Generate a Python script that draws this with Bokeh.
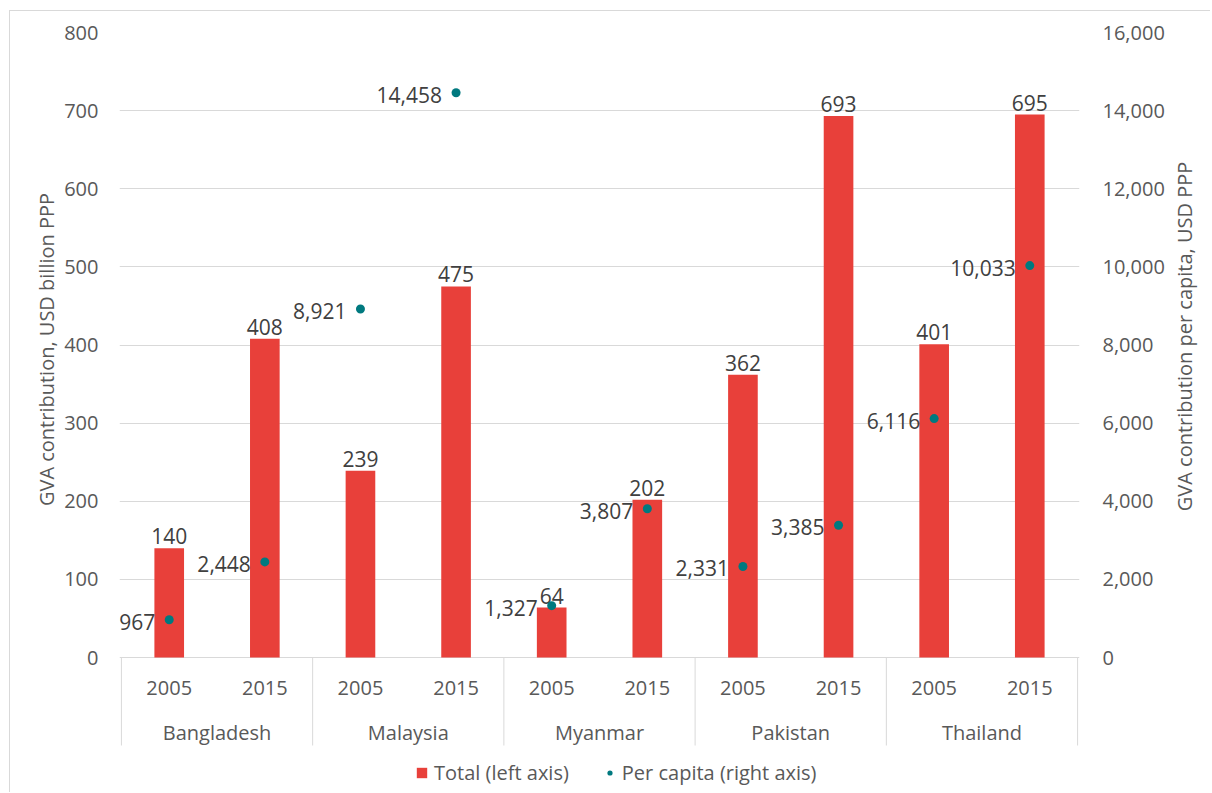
import math
from bokeh.plotting import figure
from bokeh.layouts import row
from bokeh.models import (FactorRange, Range1d, LinearAxis, FixedTicker, NumeralTickFormatter,
                          ColumnDataSource, Legend, LegendItem)
from bokeh.core.properties import value
from bokeh.embed import file_html
from bokeh.resources import INLINE

# ---- data ----
countries = ["Bangladesh", "Malaysia", "Myanmar", "Pakistan", "Thailand"]
years = ["2005", "2015"]
total_bn = [140, 408, 239, 475, 64, 202, 362, 693, 401, 695]          # USD billion PPP
per_capita = [967, 2448, 8921, 14458, 1327, 3807, 2331, 3385, 6116, 10033]  # USD PPP
left_ticks = [0, 100, 200, 300, 400, 500, 600, 700, 800]
right_ticks = [0, 2000, 4000, 6000, 8000, 10000, 12000, 14000, 16000]
left_title = "GVA contribution, USD billion PPP"
right_title = "GVA contribution per capita, USD PPP"
legend_labels = ["Total (left axis)", "Per capita (right axis)"]

# ---- styling / layout ----
FONT = "Open Sans"
RED = "#E8403A"
TEAL = "#00797F"
GRID = "#D9D9D9"
TICK_COL = "#595959"
LBL_COL = "#404040"

H = 781
LEFT_W, MAIN_W, RIGHT_W = 50, 1108, 42
BL, BR, BT, BB = 59, 89, 21, 0
frame_h = H - BT - BB
px_per_unit = 625 / left_ticks[-1]
y_end = left_ticks[-1]
y_start = y_end - frame_h / px_per_unit
ratio = right_ticks[-1] / left_ticks[-1]

factors = [(c, y) for c in countries for y in years]
x_range = FactorRange(factors=factors, factor_padding=0, group_padding=0, subgroup_padding=0,
                      range_padding=0.02, range_padding_units="absolute")
y_range = Range1d(y_start, y_end)

p = figure(width=MAIN_W, height=H, x_range=x_range, y_range=y_range,
           x_axis_location=None, toolbar_location=None, output_backend="svg", title=None,
           min_border_left=BL, min_border_right=BR, min_border_top=BT, min_border_bottom=BB)
p.outline_line_color = None
p.background_fill_color = "white"
p.border_fill_color = "white"

p.extra_y_ranges = {"pc": Range1d(y_start * ratio, y_end * ratio)}

def style_axis(ax, standoff):
    ax.axis_line_color = None
    ax.major_tick_line_color = None
    ax.minor_tick_line_color = None
    ax.major_tick_out = 0
    ax.major_tick_in = 0
    ax.major_label_standoff = standoff
    ax.major_label_text_font = FONT
    ax.major_label_text_font_size = "20px"
    ax.major_label_text_color = TICK_COL

ya = p.yaxis[0]
ya.ticker = FixedTicker(ticks=left_ticks)
style_axis(ya, 21)

ra = LinearAxis(y_range_name="pc", ticker=FixedTicker(ticks=right_ticks),
                formatter=NumeralTickFormatter(format="0,0"))
style_axis(ra, 23)
p.add_layout(ra, "right")

p.ygrid.ticker = FixedTicker(ticks=left_ticks)
p.ygrid.grid_line_color = GRID
p.xgrid.visible = False

src = ColumnDataSource(dict(
    x=factors,
    total=total_bn,
    total_lbl=[str(v) for v in total_bn],
    pc=per_capita,
    pc_lbl=[f"{v:,}" for v in per_capita],
    year=[f[1] for f in factors],
))

bars = p.vbar(x="x", top="total", width=0.31, source=src, fill_color=RED, line_color=None)
p.text(x="x", y="total", text="total_lbl", source=src, text_align="center",
       text_baseline="alphabetic", y_offset=-12, text_font=value(FONT),
       text_font_size=value("21px"), text_color=LBL_COL)

dots = p.scatter(x="x", y="pc", y_range_name="pc", source=src, size=9,
                 fill_color=TEAL, line_color=None)
p.text(x="x", y="pc", y_range_name="pc", text="pc_lbl", source=src, text_align="right",
       text_baseline="middle", x_offset=-14, y_offset=2, text_font=value(FONT),
       text_font_size=value("21px"), text_color=LBL_COL)

# two-level category axis drawn below zero
sep_bottom = -(745 - 657) / px_per_unit
year_y = -(687 - 657) / px_per_unit
country_y = -(732 - 657) / px_per_unit
n_per = len(years)
sep_x = [i * n_per for i in range(len(countries) + 1)]
p.segment(x0=sep_x, y0=[0] * len(sep_x), x1=sep_x, y1=[sep_bottom] * len(sep_x),
          line_color=GRID, line_width=1)
p.text(x="x", y=year_y, text="year", source=src, text_align="center", text_baseline="middle",
       text_font=value(FONT), text_font_size=value("20px"), text_color=TICK_COL)
p.text(x=countries, y=[country_y] * len(countries), text=countries, text_align="center",
       text_baseline="middle", text_font=value(FONT), text_font_size=value("20px"),
       text_color=TICK_COL)

legend = Legend(items=[LegendItem(label=legend_labels[0], renderers=[bars]),
                       LegendItem(label=legend_labels[1], renderers=[dots])],
                orientation="horizontal", location=(296, 6), glyph_width=13, glyph_height=13,
                label_standoff=6, spacing=34, padding=0, margin=0, border_line_color=None,
                background_fill_alpha=0, label_text_font=FONT, label_text_font_size="20px",
                label_text_color=TICK_COL)
p.add_layout(legend)

# axis titles in narrow side panels sharing the y range
def title_panel(width, x_pos, y_pos, text):
    f = figure(width=width, height=H, x_range=Range1d(0, width), y_range=y_range,
               x_axis_location=None, y_axis_location=None, toolbar_location=None,
               output_backend="svg", title=None, min_border_left=0, min_border_right=0,
               min_border_top=BT, min_border_bottom=BB)
    f.outline_line_color = None
    f.xgrid.visible = False
    f.ygrid.visible = False
    f.text(x=[x_pos], y=[y_pos], text=[text], angle=math.pi / 2, text_align="center",
           text_baseline="middle", text_font=value(FONT), text_font_size=value("20px"),
           text_color=TICK_COL)
    return f

lt = title_panel(LEFT_W, 36, (657 - 349) / px_per_unit, left_title)
rt = title_panel(RIGHT_W, 16, (657 - 336) / px_per_unit, right_title)

layout = row(lt, p, rt, spacing=0)
layout.styles = {"margin-left": "9px", "margin-top": "10px",
                 "border-left": "1px solid #D9D9D9", "border-top": "1px solid #D9D9D9"}

open("out.html", "w").write(file_html(layout, INLINE))
